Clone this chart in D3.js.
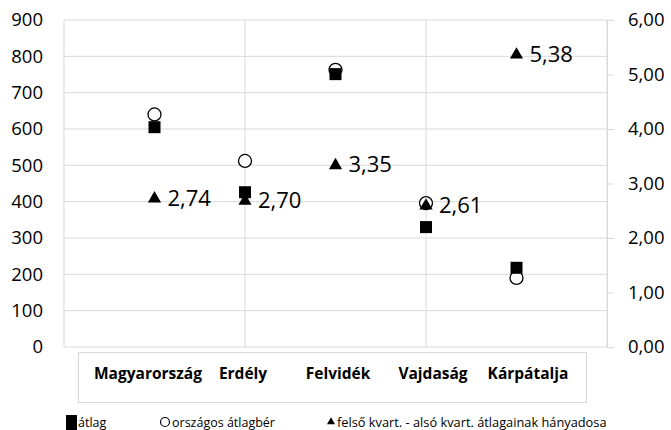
<!DOCTYPE html>
<html><head><meta charset="utf-8">
<script src="https://cdn.jsdelivr.net/npm/d3@7/dist/d3.min.js"></script>
<style>body{margin:0;background:#fff;} text{font-family:"Open Sans",sans-serif;}</style>
</head><body>
<svg id="c" width="671" height="430"></svg>
<script>
const categories = ["Magyarország","Erdély","Felvidék","Vajdaság","Kárpátalja"];
const atlag = [605, 426, 751, 330, 218];
const orszagos = [640, 512, 763, 396, 190];
const hanyados = [2.74, 2.70, 3.35, 2.61, 5.38];
const leftTicks = [0,100,200,300,400,500,600,700,800,900];
const rightTicks = [0,1,2,3,4,5,6];
const legendLabels = ["átlag","országos átlagbér","felső kvart. - alsó kvart. átlagainak hányadosa"];

const svg = d3.select("#c");
const x = d3.scaleLinear().domain([0,6]).range([64,607]);
const yL = d3.scaleLinear().domain([0,900]).range([347,20]);
const yR = d3.scaleLinear().domain([0,6]).range([347,20]);
const xLab = d3.scalePoint().domain(categories).range([148,528]);
const grid = "#d9d9d9";
const fmt = d => d.toFixed(2).replace(".", ",");

// horizontal gridlines
svg.append("g").selectAll("line").data(leftTicks).join("line")
  .attr("x1", x(0)).attr("x2", x(6)).attr("y1", d=>yL(d)).attr("y2", d=>yL(d))
  .attr("stroke", grid).attr("stroke-width", 1);
// vertical gridlines
svg.append("g").selectAll("line").data([0,2,4,6]).join("line")
  .attr("x1", d=>x(d)).attr("x2", d=>x(d)).attr("y1", yL(0)).attr("y2", yL(900))
  .attr("stroke", grid).attr("stroke-width", 1);

// left axis
const gl = svg.append("g").attr("transform", `translate(${x(0)},0)`)
  .call(d3.axisLeft(yL).tickValues(leftTicks).tickSize(0).tickPadding(21));
gl.select(".domain").remove();
gl.selectAll("text").attr("font-size", 18.5).attr("fill", "#000").attr("font-family", "Open Sans");

// right axis
const gr = svg.append("g").attr("transform", `translate(${x(6)},0)`)
  .call(d3.axisRight(yR).tickValues(rightTicks).tickFormat(fmt).tickSize(7).tickPadding(14));
gr.select(".domain").attr("stroke", grid);
gr.selectAll("line").attr("stroke", grid);
gr.selectAll("text").attr("font-size", 18.5).attr("fill", "#000").attr("font-family", "Open Sans");

// category box
svg.append("rect").attr("x", 78.5).attr("y", 352.5).attr("width", 508).attr("height", 50)
  .attr("fill", "none").attr("stroke", grid);
svg.append("g").selectAll("text").data(categories).join("text")
  .attr("x", d=>xLab(d)).attr("y", 379).attr("text-anchor", "middle")
  .attr("font-size", 15.5).attr("font-weight", "bold").text(d=>d);

const idx = categories.map((c,i)=>i);
// circles
svg.append("g").selectAll("circle").data(idx).join("circle")
  .attr("cx", i=>x(i+1)).attr("cy", i=>yL(orszagos[i])).attr("r", 6.5)
  .attr("fill", "#fff").attr("stroke", "#000").attr("stroke-width", 1.3);
// squares
svg.append("g").selectAll("rect").data(idx).join("rect")
  .attr("x", i=>x(i+1)-6).attr("y", i=>yL(atlag[i])-6).attr("width", 12).attr("height", 12)
  .attr("fill", "#000");
// triangles
const tri = d3.symbol().type(d3.symbolTriangle).size(75);
svg.append("g").selectAll("path").data(idx).join("path")
  .attr("transform", i=>`translate(${x(i+1)},${yR(hanyados[i])+1})`)
  .attr("d", tri).attr("fill", "#000");
// data labels
svg.append("g").selectAll("text").data(idx).join("text")
  .attr("x", i=>x(i+1)+13).attr("y", i=>yR(hanyados[i])+8)
  .attr("font-size", 22).text(i=>fmt(hanyados[i]));

// legend
const lg = svg.append("g");
lg.append("rect").attr("x", 66).attr("y", 415).attr("width", 11).attr("height", 15).attr("fill", "#000");
lg.append("text").attr("x", 78).attr("y", 427).attr("font-size", 12.5).text(legendLabels[0]);
lg.append("circle").attr("cx", 165).attr("cy", 422).attr("r", 4.5).attr("fill", "none").attr("stroke", "#000").attr("stroke-width", 1.2);
lg.append("text").attr("x", 172).attr("y", 427).attr("font-size", 12.5).text(legendLabels[1]);
lg.append("path").attr("transform", "translate(331,422)").attr("d", d3.symbol().type(d3.symbolTriangle).size(28)).attr("fill", "#000");
lg.append("text").attr("x", 337).attr("y", 427).attr("font-size", 12.8).text(legendLabels[2]);
</script>
</body></html>
